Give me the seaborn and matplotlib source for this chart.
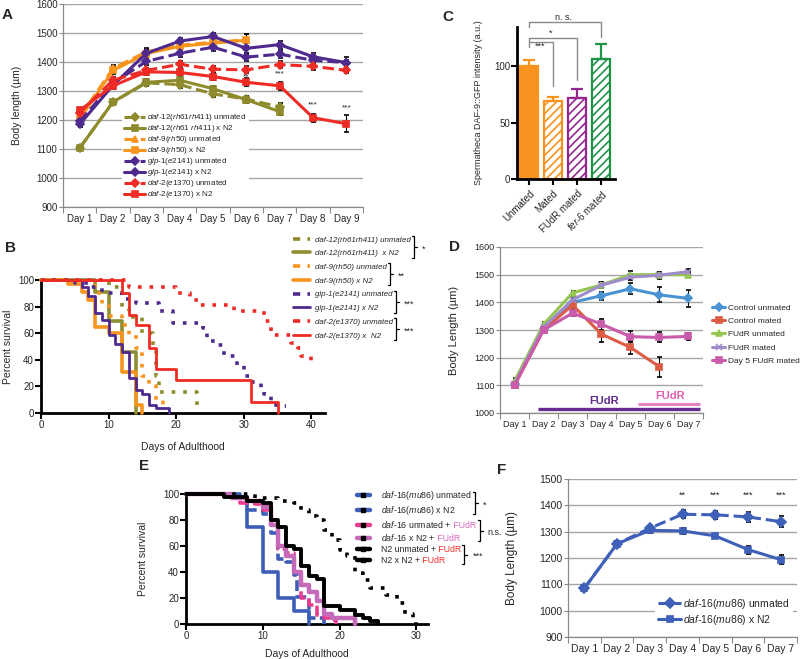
import numpy as np
import matplotlib
matplotlib.use("Agg")
import matplotlib.pyplot as plt
from matplotlib.lines import Line2D
import seaborn as sns

sns.set_style("white")
plt.rcParams["font.family"] = ["Liberation Sans", "DejaVu Sans"]
plt.rcParams["mathtext.fontset"] = "custom"
plt.rcParams["mathtext.rm"] = "Liberation Sans"
plt.rcParams["mathtext.it"] = "Liberation Sans:italic"
plt.rcParams["hatch.linewidth"] = 1.2
plt.rcParams["xtick.bottom"] = True
plt.rcParams["ytick.left"] = True

W, H = 800, 659

# ---------------- panel A: body length, 9 days
days9 = ["Day %d" % i for i in range(1, 10)]
a_labels = [
    r"$\it{daf}$-$\it{12(rh61rh411)}$ unmated",
    r"$\it{daf}$-$\it{12(rh61\ rh411)}$ x N2",
    r"$\it{daf}$-$\it{9(rh50)}$ unmated",
    r"$\it{daf}$-$\it{9(rh50)}$ x N2",
    r"$\it{glp}$-$\it{1(e2141)}$ unmated",
    r"$\it{glp}$-$\it{1(e2141)}$ x N2",
    r"$\it{daf}$-$\it{2(e1370)}$ unmated",
    r"$\it{daf}$-$\it{2(e1370)}$ x N2",
]
a_d12_unm = [1103, 1262, 1328, 1322, 1290, 1272, 1245]
a_d12_unm_err = [6, 8, 10, 12, 12, 10, 15]
a_d12_mat = [1103, 1262, 1330, 1337, 1308, 1270, 1229]
a_d12_mat_err = [5, 8, 10, 12, 10, 10, 12]
a_d9_unm = [1210, 1378, 1435, 1458, 1468, 1476]
a_d9_unm_err = [8, 10, 14, 12, 14, 22]
a_d9_mat = [1203, 1371, 1429, 1454, 1465, 1475]
a_d9_mat_err = [8, 12, 12, 12, 12, 20]
a_glp_unm = [1195, 1327, 1402, 1430, 1451, 1417, 1427, 1406, 1398]
a_glp_unm_err = [8, 10, 12, 12, 12, 14, 12, 12, 10]
a_glp_mat = [1185, 1320, 1430, 1472, 1488, 1447, 1460, 1418, 1398]
a_glp_mat_err = [8, 10, 16, 12, 12, 18, 14, 14, 18]
a_d2_unm = [1225, 1337, 1371, 1392, 1375, 1373, 1391, 1385, 1371]
a_d2_unm_err = [8, 10, 10, 12, 12, 12, 12, 12, 10]
a_d2_mat = [1233, 1318, 1366, 1364, 1350, 1330, 1318, 1208, 1187]
a_d2_mat_err = [10, 10, 10, 12, 12, 14, 14, 14, 30]
a_star_days = [6, 7, 8, 9]
a_star_y = [1350, 1360, 1253, 1243]
a_star_txt = ["**", "***", "***", "***"]

# ---------------- panel B: survival (Kaplan-Meier steps)
b_labels = ["daf-12(rh61rh411) unmated", "daf-12(rh61rh411)  x N2",
            "daf-9(rh50) unmated", "daf-9(rh50) x N2",
            "glp-1(e2141) unmated", "glp-1(e2141) x N2",
            "daf-2(e1370) unmated", "daf-2(e1370) x  N2"]
b_sig = ["*", "**", "***", "***"]
b_d12_unm_t = [0, 10, 12, 13, 15, 16.5, 17, 17.5, 23, 23.3]
b_d12_unm_s = [100, 95, 79, 72, 60, 47, 28, 16, 5, 5]
b_d12_mat_t = [0, 8, 10, 12, 14]
b_d12_mat_s = [100, 91, 69, 46, 0]
b_d9_unm_t = [0, 8, 9, 10, 12, 13, 14, 15, 16, 17, 18, 18.3]
b_d9_unm_s = [100, 90, 82, 73, 66, 59, 49, 28, 20, 10, 5, 5]
b_d9_mat_t = [0, 4, 6, 7, 8, 10, 12, 14, 15]
b_d9_mat_s = [100, 97, 91, 85, 65, 60, 31, 6, 0]
b_glp_unm_t = [0, 5, 7, 9, 12, 14, 17.5, 19.5, 24, 24.5, 26, 27, 29, 30, 31, 32.5, 33, 34, 36, 36.3]
b_glp_unm_s = [100, 98, 95, 90, 86, 83, 77, 68, 64, 54, 51, 43, 36, 28, 23, 17, 14, 6, 5, 5]
b_glp_mat_t = [0, 6, 7, 8, 9, 10, 11, 12, 13, 14, 15, 16, 17, 19]
b_glp_mat_s = [100, 95, 88, 75, 70, 59, 52, 46, 26, 17, 14, 6, 4, 0]
b_d2_unm_t = [0, 13, 20, 22, 23.5, 28.5, 33, 34, 34.5, 37, 38, 38.5, 40, 40.3]
b_d2_unm_s = [100, 95, 90, 85, 81, 77, 69, 62, 59, 53, 49, 43, 37, 37]
b_d2_mat_t = [0, 12, 13, 14, 16, 17, 20, 31, 35]
b_d2_mat_s = [100, 90, 74, 66, 49, 33, 25, 8, 0]

# ---------------- panel C: bars
c_groups = ["Unmated", "Mated", "FUdR mated", "fer-6 mated"]
c_ticklabels = ["Unmated", "Mated", "FUdR mated", r"$\it{fer}$-$\it{6}$ mated"]
c_values = [100, 69.5, 72, 107]
c_err = [5.5, 3, 7.5, 13]
c_colors = ["#F7931E", "#F7931E", "#93278F", "#1E9447"]

# ---------------- panel D: body length with FUdR
days7 = ["Day %d" % i for i in range(1, 8)]
d_labels = ["Control unmated", "Control mated", "FUdR unmated", "FUdR mated", "Day 5 FUdR mated"]
d_ctl_unm = [1105, 1305, 1400, 1424, 1449, 1427, 1414]
d_ctl_unm_err = [10, 12, 12, 15, 20, 27, 32]
d_ctl_mat = [1100, 1300, 1390, 1285, 1237, 1167]
d_ctl_mat_err = [10, 12, 12, 28, 22, 37]
d_fudr_unm = [1115, 1320, 1434, 1463, 1500, 1500, 1500]
d_fudr_unm_err = [12, 10, 8, 10, 12, 10, 8]
d_fudr_mat = [1105, 1310, 1409, 1462, 1491, 1498, 1511]
d_fudr_mat_err = [10, 10, 10, 10, 12, 12, 10]
d_d5_mat = [1100, 1300, 1361, 1321, 1276, 1273, 1277]
d_d5_mat_err = [10, 10, 12, 20, 20, 18, 12]

# ---------------- panel E: daf-16 survival
e_labels = [r"$\it{daf}$-$\it{16(mu86)}$ unmated", r"$\it{daf}$-$\it{16(mu86)}$ x N2",
            r"$\it{daf}$-$\it{16}$ unmated +", r"$\it{daf}$-$\it{16}$ x N2 +",
            "N2 unmated +", "N2 x N2 +"]
e_sig = ["*", "n.s.", "***"]
e_d16_unm_t = [0, 6, 8, 10, 11, 12, 13, 14, 14.5, 16, 18]
e_d16_unm_s = [100, 98, 88, 85, 70, 50, 48, 38, 21, 5, 0]
e_d16_mat_t = [0, 7, 8, 10, 12, 14, 16]
e_d16_mat_s = [100, 98, 75, 40, 20, 10, 0]
e_d16f_unm_t = [0, 6, 7, 9, 10, 11, 12, 13, 14, 15, 16, 17, 18, 19, 19.5]
e_d16f_unm_s = [100, 98, 93, 92, 88, 80, 58, 55, 40, 20, 15, 7, 5, 3, 0]
e_d16f_mat_t = [0, 6, 8, 10, 11, 12, 13, 14, 15, 16, 17, 18, 19, 22]
e_d16f_mat_s = [100, 97, 95, 90, 76, 60, 52, 40, 30, 25, 18, 8, 5, 0]
e_n2_unm_t = [0, 9, 12, 14, 15, 16, 17, 18, 19, 20, 21, 22, 23, 24, 26, 27.5, 28.5, 29.5, 30]
e_n2_unm_s = [100, 97, 95, 93, 88, 83, 80, 72, 65, 57, 52, 39, 34, 28, 22, 16, 8, 2, 0]
e_n2_mat_t = [0, 5, 8, 10, 11, 12, 13, 14, 15, 16, 17, 18, 20, 22, 23, 24, 25]
e_n2_mat_s = [100, 98, 95, 93, 80, 75, 60, 57.5, 45, 36.6, 34.5, 13.5, 11, 7, 4.6, 2, 0]

# ---------------- panel F: daf-16 body length
f_labels = [r"$\it{daf}$-$\it{16(mu86)}$ unmated", r"$\it{daf}$-$\it{16(mu86)}$ x N2"]
f_unm = [1085, 1254, 1313, 1366, 1364, 1356, 1338]
f_unm_err = [10, 10, 10, 15, 15, 20, 20]
f_mat = [1085, 1254, 1305, 1303, 1284, 1232, 1194]
f_mat_err = [10, 10, 10, 10, 8, 15, 18]
f_star_days = [4, 5, 6, 7]
f_star_txt = ["**", "***", "***", "***"]

OLIVE, ORANGE, PURPLE, RED = "#8E8B2D", "#F7941D", "#4E2A8E", "#EE2B24"

fig = plt.figure(figsize=(W / 100, H / 100), dpi=100)


def px_axes(l, t, r, b):
    return fig.add_axes([l / W, 1 - b / H, (r - l) / W, (b - t) / H])


def excel_axes(ax, ticklabels, lo, hi, step, fs):
    n = len(ticklabels)
    ax.set_xlim(0.5, n + 0.5)
    ax.set_xticks(np.arange(1, n + 1))
    ax.set_xticklabels(ticklabels, fontsize=fs)
    ax.set_xticks(np.arange(0.5, n + 1), minor=True)
    ax.tick_params(axis="x", which="major", length=0, pad=5)
    ax.tick_params(axis="x", which="minor", length=4, width=0.8, color="#8a8a8a")
    ax.set_ylim(lo, hi)
    ax.set_yticks(np.arange(lo, hi + 1, step))
    ax.tick_params(axis="y", length=3, width=0.8, color="#8a8a8a", pad=1, labelsize=fs)
    ax.yaxis.grid(True, color="#a5a5a5", lw=1)
    ax.xaxis.grid(False)
    ax.set_axisbelow(True)
    for s in ["top", "right"]:
        ax.spines[s].set_visible(False)
    for s in ["left", "bottom"]:
        ax.spines[s].set_color("#8a8a8a")
        ax.spines[s].set_linewidth(0.9)


def prism_axes(ax, xmax, xticks, fs=7):
    ax.set_xlim(0, xmax)
    ax.set_ylim(0, 100)
    ax.set_xticks(xticks)
    ax.set_yticks([0, 20, 40, 60, 80, 100])
    for s in ["top", "right"]:
        ax.spines[s].set_visible(False)
    for s in ["left", "bottom"]:
        ax.spines[s].set_color("black")
        ax.spines[s].set_linewidth(2)
    ax.tick_params(length=4, width=1.5, direction="out", labelsize=fs, pad=1, color="black")


def series(ax, y, err, color, ls, marker, lw=2.2, ms=4):
    x = np.arange(1, len(y) + 1)
    ax.errorbar(x, y, yerr=err, color=color, ls=ls, marker=marker, ms=ms, lw=lw,
                mew=1.2, ecolor="black", elinewidth=0.8, capsize=1.8, capthick=0.8)
    return Line2D([], [], color=color, ls=ls, marker=marker, ms=ms, lw=lw, mew=1.2)


def fig_bracket(x, ytop, ybot, text, fs=6.5):
    xs = np.array([x - 2, x, x, x - 2]) / W
    ys = np.array([ytop, ytop, ybot, ybot]) / H
    fig.add_artist(Line2D(xs, ys, transform=fig.transFigure, color="black", lw=0.9))
    ym = (ytop + ybot) / 2
    fig.add_artist(Line2D(np.array([x, x + 3]) / W, np.array([ym, ym]) / H,
                          transform=fig.transFigure, color="black", lw=0.9))
    fig.text((x + 8) / W, (ym - 2) / H, text, va="center", ha="left", fontsize=fs)


# ======== A
axA = px_axes(63, 4, 363, 207)
excel_axes(axA, days9, 900, 1600, 100, 7)
hA = [
    series(axA, a_d12_unm, a_d12_unm_err, OLIVE, "--", "D"),
    series(axA, a_d12_mat, a_d12_mat_err, OLIVE, "-", "s"),
    series(axA, a_d9_unm, a_d9_unm_err, ORANGE, "--", "^"),
    series(axA, a_d9_mat, a_d9_mat_err, ORANGE, "-", "s"),
    series(axA, a_glp_unm, a_glp_unm_err, PURPLE, "--", "D"),
    series(axA, a_glp_mat, a_glp_mat_err, PURPLE, "-", "D"),
    series(axA, a_d2_unm, a_d2_unm_err, RED, "--", "D"),
    series(axA, a_d2_mat, a_d2_mat_err, RED, "-", "s"),
]
for d, yv, t in zip(a_star_days, a_star_y, a_star_txt):
    axA.text(d, yv, t, ha="center", va="center", fontsize=6)
axA.set_ylabel("Body length (\u00b5m)", fontsize=7.5)
axA.yaxis.set_label_coords(-0.137, 0.5)
axA.legend(hA, a_labels, loc="upper left", bbox_to_anchor=(122 / W, 1 - 110 / H),
           bbox_transform=fig.transFigure, fontsize=5.8, frameon=True, facecolor="white",
           edgecolor="none", framealpha=1, fancybox=False, handlelength=2.6,
           handleheight=0.5, handletextpad=0.25, labelspacing=0.0, borderpad=0.3,
           borderaxespad=0)

# ======== B
axB = px_axes(41, 280, 325, 413)
prism_axes(axB, 42, [0, 10, 20, 30, 40])
dot = (0, (1, 2.2))
b_specs = [
    (b_d12_unm_t, b_d12_unm_s, OLIVE, dot, 2.6),
    (b_d12_mat_t, b_d12_mat_s, "#8F8E30", "-", 2.6),
    (b_d9_unm_t, b_d9_unm_s, ORANGE, dot, 2.6),
    (b_d9_mat_t, b_d9_mat_s, ORANGE, "-", 2.6),
    (b_glp_unm_t, b_glp_unm_s, PURPLE, dot, 2.6),
    (b_glp_mat_t, b_glp_mat_s, PURPLE, "-", 2.0),
    (b_d2_unm_t, b_d2_unm_s, RED, dot, 2.6),
    (b_d2_mat_t, b_d2_mat_s, RED, "-", 2.0),
]
hB = []
for t, s, c, ls, lw in b_specs:
    axB.step(t, s, where="post", color=c, ls=ls, lw=lw, clip_on=False, zorder=3)
    hB.append(Line2D([], [], color=c, ls=(0, (2, 2)) if ls == dot else "-", lw=lw))
axB.set_xlabel("Days of Adulthood", fontsize=7.5)
axB.xaxis.set_label_coords(0.5, -0.22)
axB.set_ylabel("Percent survival", fontsize=7.5)
axB.yaxis.set_label_coords(-0.1, 0.5)
legB = fig.legend(hB, b_labels, loc="upper left", bbox_to_anchor=(293 / W, 1 - 236 / H),
                  frameon=False, handlelength=2.2, handletextpad=0.6,
                  labelspacing=0.78, borderpad=0, borderaxespad=0,
                  prop={"style": "italic", "size": 5.7})

# ======== C
axC = px_axes(517, 27, 615, 179)
sns.barplot(x=c_groups, y=c_values, hue=c_groups, palette=dict(zip(c_groups, c_colors)),
            legend=False, ax=axC, width=0.76, saturation=1)
for i, p in enumerate(axC.patches):
    p.set_edgecolor(c_colors[i])
    p.set_linewidth(1.6)
    if i > 0:
        p.set_facecolor("white")
        p.set_hatch("////")
for i in range(len(c_values)):
    axC.errorbar(i, c_values[i], yerr=[[0], [c_err[i]]], fmt="none", ecolor=c_colors[i],
                 elinewidth=1.6, capsize=4, capthick=1.6)
axC.set_xlim(-0.5, 3.6)
axC.set_ylim(0, 135)
axC.set_yticks([0, 50, 100])
axC.set_xticks(range(4))
axC.set_xticklabels(c_ticklabels, rotation=45, ha="right", rotation_mode="anchor", fontsize=7)
for s in ["top", "right"]:
    axC.spines[s].set_visible(False)
for s in ["left", "bottom"]:
    axC.spines[s].set_color("black")
    axC.spines[s].set_linewidth(2)
axC.tick_params(length=4, width=1.5, direction="out", labelsize=7, pad=1, color="black")
axC.tick_params(axis="x", pad=3)
axC.set_xlabel("")
axC.set_ylabel("Spermatheca DAF-9::GFP intensity (a.u.)", fontsize=6.5)
axC.yaxis.set_label_coords(-0.35, 0.5)
for xr, yl, yr, txt, tx, ty in [(1, 121.5, 83, "***", 0.45, 117.5),
                                 (2, 125.5, 88, "*", 0.9, 129.5),
                                 (3, 139, 126, "n. s.", 1.45, 143.5)]:
    axC.plot([0, 0, xr, xr], [yl - 4, yl, yl, yr], color="#8a8a8a", lw=1, clip_on=False)
    axC.text(tx, ty, txt, ha="center", va="center", fontsize=6.5, clip_on=False)

# ======== D
axD = px_axes(500, 247, 703, 413)
excel_axes(axD, days7, 1000, 1600, 100, 6.5)
hD = [
    series(axD, d_ctl_unm, d_ctl_unm_err, "#4A93D3", "-", "D"),
    series(axD, d_ctl_mat, d_ctl_mat_err, "#DC5C44", "-", "s"),
    series(axD, d_fudr_unm, d_fudr_unm_err, "#95C650", "-", "^"),
    series(axD, d_fudr_mat, d_fudr_mat_err, "#A08CCB", "-", "x"),
    series(axD, d_d5_mat, d_d5_mat_err, "#C95BAA", "-", "s"),
]
axD.plot([1.82, 7.4], [1015, 1015], color="#662D91", lw=2.4, solid_capstyle="butt", zorder=4)
axD.plot([5.26, 7.4], [1034, 1034], color="#E583C0", lw=2.2, solid_capstyle="butt", zorder=4)
axD.text(4.1, 1042, "FUdR", color="#5E2B8C", fontweight="bold", fontsize=8, ha="center", va="center")
axD.text(6.35, 1063, "FUdR", color="#E35FB0", fontweight="bold", fontsize=8, ha="center", va="center")
axD.set_ylabel("Body Length (\u00b5m)", fontsize=8)
axD.yaxis.set_label_coords(-0.2, 0.5)
fig.legend(hD, d_labels, loc="upper left", bbox_to_anchor=(712 / W, 1 - 304 / H),
           fontsize=6, frameon=False, handlelength=1.6, handletextpad=0.3,
           labelspacing=0.65, borderpad=0, borderaxespad=0)

# ======== E
axE = px_axes(186, 494, 428, 624)
prism_axes(axE, 31.5, [0, 10, 20, 30])
BLUE_E, PINK_E, ORCHID_E = "#3D5DB7", "#EA3C8F", "#C46AB8"
e_specs = [
    (e_d16_unm_t, e_d16_unm_s, BLUE_E, (0, (3, 1.2)), 2.6),
    (e_d16_mat_t, e_d16_mat_s, BLUE_E, "-", 2.6),
    (e_d16f_unm_t, e_d16f_unm_s, PINK_E, (0, (3, 1.2)), 2.6),
    (e_d16f_mat_t, e_d16f_mat_s, ORCHID_E, "-", 3.2),
    (e_n2_unm_t, e_n2_unm_s, "black", (0, (1, 2.2)), 2.6),
    (e_n2_mat_t, e_n2_mat_s, "black", "-", 2.8),
]
hE = []
for t, s, c, ls, lw in e_specs:
    axE.step(t, s, where="post", color=c, ls=ls, lw=lw, clip_on=False, zorder=3)
    hE.append(Line2D([], [], color=c, lw=3.2, marker="s", ms=2.5, mfc="black", mec="black"))
axE.set_xlabel("Days of Adulthood", fontsize=7.5)
axE.xaxis.set_label_coords(0.5, -0.19)
axE.set_ylabel("Percent survival", fontsize=7.5)
axE.yaxis.set_label_coords(-0.155, 0.5)
legE = fig.legend(hE, e_labels, loc="upper left", bbox_to_anchor=(357 / W, 1 - 489 / H),
                  fontsize=6.3, frameon=False, handlelength=1.45, handletextpad=1.3,
                  handleheight=0.5, labelspacing=0.22, borderpad=0, borderaxespad=0)
e_extra = []
for k, c in zip([2, 3, 4, 5], ["#D86BBE", "#D86BBE", "#F2302B", "#F2302B"]):
    e_extra.append(axE.annotate(" FUdR", xy=(1, 0), xycoords=legE.get_texts()[k],
                                ha="left", va="bottom", fontsize=6.3, color=c))

# ======== F
axF = px_axes(568, 479, 797, 637)
excel_axes(axF, days7, 900, 1500, 100, 7.5)
hF = [
    series(axF, f_unm, f_unm_err, "#3F60B8", "--", "D", ms=5),
    series(axF, f_mat, f_mat_err, "#3F60B8", "-", "s", ms=5),
]
for d, t in zip(f_star_days, f_star_txt):
    axF.text(d, 1440, t, ha="center", va="center", fontsize=6.5)
axF.set_ylabel("Body Length (\u00b5m)", fontsize=8.5)
axF.yaxis.set_label_coords(-0.22, 0.5)
axF.legend(hF, f_labels, loc="upper left", bbox_to_anchor=(655 / W, 1 - 594 / H),
           bbox_transform=fig.transFigure, fontsize=7.5, frameon=True, facecolor="white",
           edgecolor="none", framealpha=1, fancybox=False, handlelength=2.2,
           handletextpad=0.2, labelspacing=0.15, borderpad=0.3, borderaxespad=0)

# panel letters
for x, y, s in [(7, 15, "A"), (11, 248, "B"), (448, 17, "C"), (454, 247, "D"),
                (144, 466, "E"), (502, 470, "F")]:
    fig.text(x / W, 1 - y / H, s, fontsize=11, fontweight="bold", ha="center", va="center")

# brackets next to the survival legends
fig.canvas.draw()
rend = fig.canvas.get_renderer()


def row_box(texts, extras, idx):
    bbs = [texts[idx].get_window_extent(rend)]
    for e in extras.get(idx, []):
        bbs.append(e.get_window_extent(rend))
    x1 = max(b.x1 for b in bbs)
    yc = (bbs[0].y0 + bbs[0].y1) / 2
    return x1, yc


tB = legB.get_texts()
for k, sig in enumerate(b_sig):
    x1a, ya = row_box(tB, {}, 2 * k)
    x1b, yb = row_box(tB, {}, 2 * k + 1)
    fig_bracket(max(x1a, x1b) + 3, ya + 4, yb - 4, sig)

tE = legE.get_texts()
extrasE = {2: [e_extra[0]], 3: [e_extra[1]], 4: [e_extra[2]], 5: [e_extra[3]]}
for k, sig in enumerate(e_sig):
    x1a, ya = row_box(tE, extrasE, 2 * k)
    x1b, yb = row_box(tE, extrasE, 2 * k + 1)
    fig_bracket(max(x1a, x1b) + 3, ya + 4, yb - 4, sig, fs=6.5)

fig.savefig("out.png", dpi=100)
